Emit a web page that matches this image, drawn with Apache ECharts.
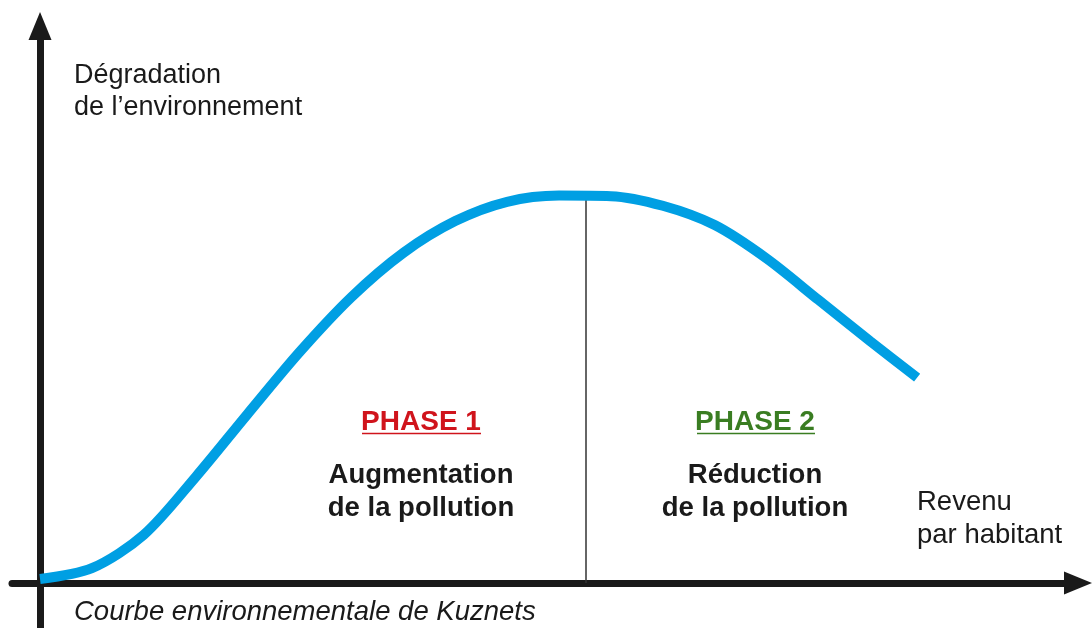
<!DOCTYPE html>
<html>
<head>
<meta charset="utf-8">
<script src="https://cdn.jsdelivr.net/npm/echarts@6/dist/echarts.min.js"></script>
<style>
  html, body { margin: 0; padding: 0; background: #fff; }
  #main { width: 1092px; height: 628px; }
</style>
</head>
<body>
<div id="main"></div>
<script>
// curve (arbitrary units: income -> degradation)
const revenu = [0, 5, 10, 15, 20, 25, 30, 35, 40, 45, 50, 55, 60, 65, 70, 75, 80, 84.5];
const degradation = [0.7, 2.6, 8.5, 18.7, 29.8, 40.7, 50.4, 58.2, 63.8, 67.2, 68.3, 68.2, 66.5, 63.1, 57.2, 49.9, 42.6, 36.2];
// boundary between the two phases
const seuilX = [52.6, 52.6];
const seuilY = [0, 68];

const FONT = 'Liberation Sans';

const chart = echarts.init(document.getElementById('main'));

const axisCommon = {
    type: 'value',
    axisLine: {
        show: true,
        onZero: true,
        symbol: ['none', 'triangle'],
        symbolSize: [23, 28],
        lineStyle: { color: '#1a1a1a', width: 7 }
    },
    axisTick: { show: false },
    axisLabel: { show: false },
    splitLine: { show: false }
};

const bold = { fontFamily: FONT, fontWeight: 'bold', fontSize: 27.5, fill: '#1a1a1a', align: 'center', lineHeight: 33 };

chart.setOption({
    animation: false,
    backgroundColor: '#fff',
    grid: { left: 12, right: 14, top: 26, bottom: 0 },
    xAxis: Object.assign({}, axisCommon, { min: -2.7, max: 100 }),
    yAxis: Object.assign({}, axisCommon, { min: -7.94, max: 98.2 }),
    series: [
        {
            type: 'line',
            data: seuilX.map((x, i) => [x, seuilY[i]]),
            symbol: 'none',
            lineStyle: { color: '#333', width: 1.5 },
            z: 1
        },
        {
            type: 'line',
            data: revenu.map((x, i) => [x, degradation[i]]),
            symbol: 'none',
            smooth: 0.3,
            lineStyle: { color: '#009fe3', width: 10, cap: 'butt' },
            z: 2
        }
    ],
    graphic: [
        { type: 'text', left: 74, top: 60, style: { text: 'Dégradation\nde l’environnement', fontFamily: FONT, fontSize: 27, lineHeight: 32, fill: '#1a1a1a' } },
        { type: 'text', left: 917, top: 486, style: { text: 'Revenu\npar habitant', fontFamily: FONT, fontSize: 27.5, lineHeight: 33, fill: '#1a1a1a' } },
        { type: 'text', left: 74, top: 599, style: { text: 'Courbe environnementale de Kuznets', fontFamily: FONT, fontStyle: 'italic', fontSize: 27.5, fill: '#1a1a1a' } },

        { type: 'text', x: 421, y: 406, style: Object.assign({}, bold, { text: 'PHASE 1', fill: '#d0141c', fontSize: 28 }) },
        { type: 'line', shape: { x1: 362, y1: 433.5, x2: 481, y2: 433.5 }, style: { stroke: '#d0141c', lineWidth: 1.5 } },
        { type: 'text', x: 421, y: 459, style: Object.assign({}, bold, { text: 'Augmentation\nde la pollution' }) },

        { type: 'text', x: 755, y: 406, style: Object.assign({}, bold, { text: 'PHASE 2', fill: '#3a7d22', fontSize: 28 }) },
        { type: 'line', shape: { x1: 697, y1: 433.5, x2: 815, y2: 433.5 }, style: { stroke: '#3a7d22', lineWidth: 1.5 } },
        { type: 'text', x: 755, y: 459, style: Object.assign({}, bold, { text: 'Réduction\nde la pollution' }) }
    ]
});
</script>
</body>
</html>
